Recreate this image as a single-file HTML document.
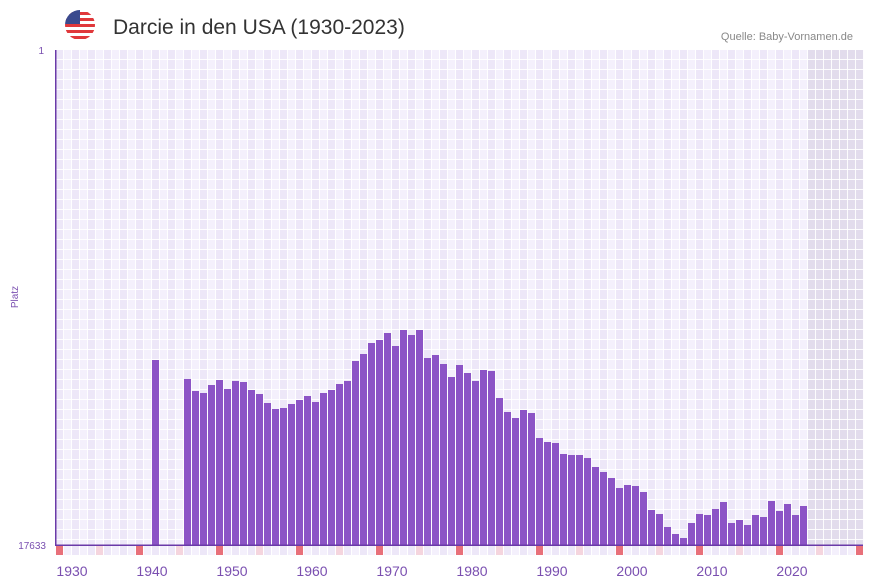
<!DOCTYPE html>
<html><head><meta charset="utf-8"><style>
html,body{margin:0;padding:0;background:#fff;width:873px;height:587px;overflow:hidden}
svg{display:block;font-family:"Liberation Sans","DejaVu Sans",sans-serif}
</style></head><body>
<svg id="s" width="873" height="587" xmlns="http://www.w3.org/2000/svg">
<defs><clipPath id="c"><circle cx="80" cy="25" r="15"/></clipPath></defs>
<g clip-path="url(#c)">
<rect x="65" y="10" width="30" height="30" fill="#fff"/>
<rect x="65" y="12" width="30" height="3" fill="#e0383b"/>
<rect x="65" y="18" width="30" height="3" fill="#e0383b"/>
<rect x="65" y="24" width="30" height="3" fill="#e0383b"/>
<rect x="65" y="30" width="30" height="3" fill="#e0383b"/>
<rect x="65" y="36" width="30" height="3" fill="#e0383b"/>
<rect x="65" y="10" width="15" height="14" fill="#3a4a8e"/>
</g>
<text x="113" y="34" font-size="21" fill="#333">Darcie in den USA (1930-2023)</text>
<text x="853" y="40" font-size="11" fill="#888" text-anchor="end">Quelle: Baby-Vornamen.de</text>
<text x="44" y="54" font-size="10" fill="#7a4fb0" text-anchor="end">1</text>
<text x="46" y="549" font-size="10" fill="#7a4fb0" text-anchor="end">17633</text>
<text x="18" y="297" font-size="10" fill="#7a4fb0" text-anchor="middle" transform="rotate(-90 18 297)">Platz</text>
<g id="g"></g>
</svg>
<script>
var g=document.getElementById('g'),h='';
for(var k=0;k<101;k++){var x=56+k*8;h+='<rect x="'+x+'" y="50" width="8" height="495" fill="'+(k%2?'#f4f0fc':'#ede7f8')+'"/>';}
h+='<rect x="808" y="50" width="55" height="495" fill="#e2dcec"/>';
for(var k=0;k<101;k++){var x=56+k*8+7;h+='<rect x="'+x+'" y="50" width="1" height="495" fill="#fff" opacity="0.9"/>';}
for(var y=59;y<545;y+=10){h+='<rect x="56" y="'+y+'" width="807" height="1" fill="#fff" opacity="0.9"/>';}
var d={1940:360,1944:379,1945:391,1946:393,1947:385,1948:380,1949:389,1950:381,1951:382,1952:390,1953:394,1954:403,1955:409,1956:408,1957:404,1958:400,1959:396,1960:402,1961:393,1962:390,1963:384,1964:381,1965:361,1966:354,1967:343,1968:340,1969:333,1970:346,1971:330,1972:335,1973:330,1974:358,1975:355,1976:364,1977:377,1978:365,1979:373,1980:381,1981:370,1982:371,1983:398,1984:412,1985:418,1986:410,1987:413,1988:438,1989:442,1990:443,1991:454,1992:455,1993:455,1994:458,1995:467,1996:472,1997:478,1998:488,1999:485,2000:486,2001:492,2002:510,2003:514,2004:527,2005:534,2006:538,2007:523,2008:514,2009:515,2010:509,2011:502,2012:523,2013:520,2014:525,2015:515,2016:517,2017:501,2018:511,2019:504,2020:515,2021:506};
for(var yr in d){var x=56+(yr-1928)*8;h+='<rect x="'+x+'" y="'+d[yr]+'" width="7" height="'+(545-d[yr])+'" fill="#8c54c6"/>';}
for(var k=0;k<101;k++){var x=56+k*8,yr=1928+k,c=(k%2?'#f4f0fc':'#ede7f8');if(yr%10==8)c='#e8707a';else if(yr%10==3)c='#f5d5de';h+='<rect x="'+x+'" y="546" width="7" height="9" fill="'+c+'"/>';}
h+='<rect x="55" y="50" width="1.5" height="496" fill="#6a3aa8"/><rect x="55" y="544.5" width="808" height="1.5" fill="#6a3aa8"/>';
for(var yr=1930;yr<=2020;yr+=10){var x=72+(yr-1930)*8;h+='<text x="'+x+'" y="576" font-size="14" fill="#7a4fb0" text-anchor="middle">'+yr+'</text>';}
g.innerHTML=h;
</script>
</body></html>
